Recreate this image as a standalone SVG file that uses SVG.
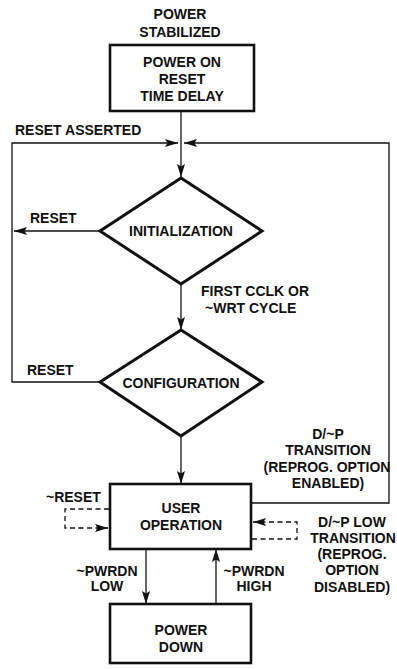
<svg xmlns="http://www.w3.org/2000/svg" width="397" height="669" viewBox="0 0 397 669">
<defs>
<marker id="ah" markerUnits="userSpaceOnUse" markerWidth="13" markerHeight="8" refX="13" refY="4" orient="auto">
<path d="M0,0 L13,4 L0,8 L2.5,4 z" fill="#111"/>
</marker>
<style>
text{font-family:"Liberation Sans",Arial,sans-serif;font-weight:bold;font-size:14px;fill:#111}
.c{text-anchor:middle}
.box{fill:#fff;stroke:#111;stroke-width:2.6}
.dia{fill:#fff;stroke:#111;stroke-width:3}
.ln{fill:none;stroke:#111;stroke-width:1.3}
.dash{fill:none;stroke:#111;stroke-width:1.3;stroke-dasharray:5,3.5}
</style>
</defs>
<rect width="397" height="669" fill="#fff"/>
<g id="connectors">
<path class="ln" d="M181,111 V177" marker-end="url(#ah)"/>
<path class="ln" d="M100,382 H12 V143 H178" marker-end="url(#ah)"/>
<path class="ln" d="M251,503 H389 V143 H184" marker-end="url(#ah)"/>
<path class="ln" d="M100,231 H14" marker-end="url(#ah)"/>
<path class="ln" d="M181,284 V330" marker-end="url(#ah)"/>
<path class="ln" d="M181,436 V484" marker-end="url(#ah)"/>
<path class="dash" d="M109,509 H65 V528 H108" marker-end="url(#ah)"/>
<path class="dash" d="M252,539 H297 V522 H253" marker-end="url(#ah)"/>
<path class="ln" d="M146,549 V604" marker-end="url(#ah)"/>
<path class="ln" d="M216,604 V549" marker-end="url(#ah)"/>
</g>
<g id="labels">
<text class="c" x="180" y="19">POWER</text>
<text class="c" x="180" y="37">STABILIZED</text>
<text x="15" y="135">RESET ASSERTED</text>
<text x="30" y="223">RESET</text>
<text x="201" y="296">FIRST CCLK OR</text>
<text x="205" y="313">~WRT CYCLE</text>
<text x="27" y="375">RESET</text>
<text class="c" x="328" y="439">D/~P</text>
<text class="c" x="328" y="455">TRANSITION</text>
<text class="c" x="327" y="472">(REPROG. OPTION</text>
<text class="c" x="328" y="488">ENABLED)</text>
<text x="46" y="502">~RESET</text>
<text class="c" x="352" y="527">D/~P LOW</text>
<text class="c" x="353" y="543">TRANSITION</text>
<text class="c" x="352" y="559">(REPROG.</text>
<text class="c" x="352" y="575">OPTION</text>
<text class="c" x="352" y="592">DISABLED)</text>
<text class="c" x="107" y="576">~PWRDN</text>
<text class="c" x="107" y="591">LOW</text>
<text class="c" x="254" y="576">~PWRDN</text>
<text class="c" x="254" y="591">HIGH</text>
</g>
<g id="por">
<rect class="box" x="110" y="45" width="144" height="66"/>
<text class="c" x="182" y="67">POWER ON</text>
<text class="c" x="182" y="84">RESET</text>
<text class="c" x="182" y="101">TIME DELAY</text>
</g>
<g id="init">
<polygon class="dia" points="181,178 262,231 181,284 100,231"/>
<text class="c" x="181" y="236">INITIALIZATION</text>
</g>
<g id="config">
<polygon class="dia" points="181,330 262,382 181,436 100,382"/>
<text class="c" x="181" y="388">CONFIGURATION</text>
</g>
<g id="user">
<rect class="box" x="110" y="484" width="141" height="65"/>
<text class="c" x="181" y="513">USER</text>
<text class="c" x="181" y="530">OPERATION</text>
</g>
<g id="pwrdn">
<rect class="box" x="110" y="604" width="141" height="59"/>
<text class="c" x="181" y="635">POWER</text>
<text class="c" x="181" y="652">DOWN</text>
</g>
</svg>
